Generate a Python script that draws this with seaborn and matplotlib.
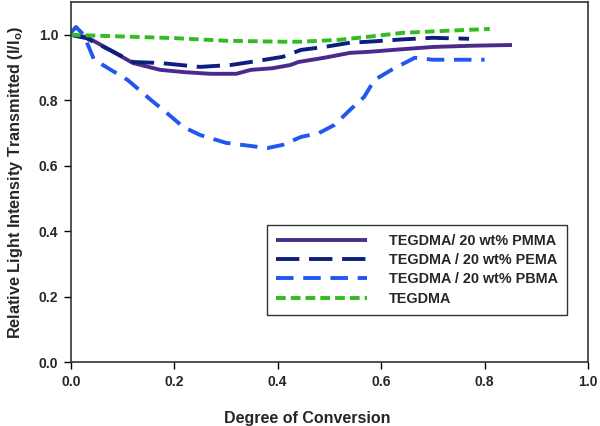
import pandas as pd
import matplotlib
matplotlib.use("Agg")
import matplotlib.pyplot as plt
import seaborn as sns

# Degree of conversion vs relative light intensity
pmma_x = [0.0, 0.03, 0.08, 0.12, 0.173, 0.22, 0.27, 0.32, 0.348, 0.39, 0.425, 0.44, 0.49, 0.54, 0.575, 0.64, 0.70, 0.78, 0.853]
pmma_y = [1.0, 0.994, 0.95, 0.914, 0.893, 0.886, 0.881, 0.881, 0.893, 0.898, 0.908, 0.917, 0.93, 0.945, 0.948, 0.956, 0.963, 0.967, 0.969]

pema_x = [0.0, 0.03, 0.08, 0.12, 0.173, 0.25, 0.31, 0.36, 0.41, 0.445, 0.49, 0.54, 0.575, 0.64, 0.70, 0.77]
pema_y = [1.0, 0.99, 0.95, 0.917, 0.914, 0.902, 0.908, 0.92, 0.933, 0.954, 0.963, 0.976, 0.979, 0.986, 0.991, 0.988]

pbma_x = [0.0, 0.01, 0.025, 0.045, 0.11, 0.155, 0.186, 0.217, 0.25, 0.30, 0.38, 0.41, 0.445, 0.48, 0.51, 0.54, 0.567, 0.587, 0.62, 0.665, 0.70, 0.80]
pbma_y = [1.006, 1.024, 1.0, 0.924, 0.862, 0.801, 0.761, 0.719, 0.694, 0.670, 0.654, 0.664, 0.688, 0.70, 0.725, 0.771, 0.810, 0.862, 0.893, 0.930, 0.924, 0.924]

teg_x = [0.0, 0.1, 0.2, 0.3, 0.41, 0.445, 0.52, 0.58, 0.64, 0.72, 0.81]
teg_y = [1.0, 0.995, 0.99, 0.982, 0.979, 0.979, 0.985, 0.995, 1.006, 1.012, 1.018]

labels = ["TEGDMA/ 20 wt% PMMA", "TEGDMA / 20 wt% PEMA", "TEGDMA / 20 wt% PBMA", "TEGDMA"]
colors = ["#4a2a8c", "#0d1f7d", "#2157ee", "#33bb22"]

sns.set_style("ticks")
plt.rcParams["font.family"] = ["Liberation Sans", "DejaVu Sans"]
plt.rcParams["font.weight"] = "bold"
plt.rcParams["mathtext.fontset"] = "custom"
plt.rcParams["mathtext.rm"] = "Liberation Sans:bold"
plt.rcParams["mathtext.it"] = "Liberation Sans:bold"

fig = plt.figure(figsize=(6, 4.26), dpi=100)
ax = fig.add_axes([0.118, 0.150, 0.862, 0.845])

series = [(pmma_x, pmma_y), (pema_x, pema_y), (pbma_x, pbma_y), (teg_x, teg_y)]
styles = [(0, ()), (0, (6, 2.5)), (0, (4.5, 2.5)), (0, (2.5, 1.3))]
for (xs, ys), lab, c, ls in zip(series, labels, colors, styles):
    df = pd.DataFrame({"x": xs, "y": ys})
    sns.lineplot(data=df, x="x", y="y", ax=ax, color=c, lw=2.8,
                 linestyle=ls, label=lab, sort=False)

ax.set_xlim(0, 1.0)
ax.set_ylim(0, 1.1)
ax.set_xticks([0.0, 0.2, 0.4, 0.6, 0.8, 1.0])
ax.set_yticks([0.0, 0.2, 0.4, 0.6, 0.8, 1.0])
ax.set_xticklabels([f"{v:.1f}" for v in ax.get_xticks()], fontweight="bold", fontsize=10)
ax.set_yticklabels([f"{v:.1f}" for v in ax.get_yticks()], fontweight="bold", fontsize=10)
ax.tick_params(direction="out", length=5, width=1, color="black", pad=4)
for s in ax.spines.values():
    s.set_color("#333333")
    s.set_linewidth(1.2)

ax.set_xlabel("Degree of Conversion", fontsize=11.5, fontweight="bold", labelpad=12)
ax.xaxis.set_label_coords(0.458, -0.135)
ax.set_ylabel(r"Relative Light Intensity Transmitted (I/I$_{\rm o}$)", fontsize=11.7,
              fontweight="bold", labelpad=10)

leg = ax.legend(loc="upper left", bbox_to_anchor=(0.365, 0.402), frameon=True,
                fancybox=False, edgecolor="black", handlelength=6.3,
                handletextpad=1.5, borderpad=0.65, labelspacing=0.36,
                prop={"weight": "bold", "size": 10.4})
leg.get_frame().set_linewidth(1.0)

fig.savefig("out.png", dpi=100)
